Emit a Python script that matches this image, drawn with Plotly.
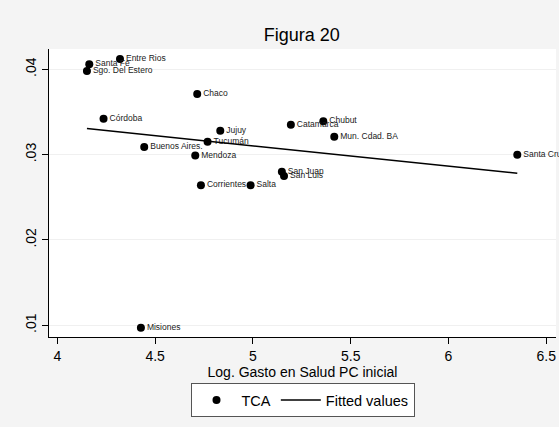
import numpy as np
import plotly.graph_objects as go

provinces = ["Entre Rios", "Santa Fe", "Sgo. Del Estero", "Chaco", "Córdoba", "Jujuy",
             "Tucumán", "Buenos Aires.", "Mendoza", "Catamarca", "Chubut", "Mun. Cdad. BA",
             "San Juan", "San Luis", "Corrientes", "Salta", "Santa Cruz", "Misiones"]
log_gasto = [4.32, 4.163, 4.151, 4.715, 4.236, 4.833,
             4.768, 4.444, 4.705, 5.194, 5.36, 5.416,
             5.148, 5.159, 4.734, 4.988, 6.352, 4.427]
tca = [0.0412, 0.0406, 0.0398, 0.0371, 0.0342, 0.0328,
       0.0315, 0.0309, 0.0299, 0.0335, 0.0339, 0.0321,
       0.0280, 0.0275, 0.0264, 0.0264, 0.0300, 0.0097]

x_ticks = [4, 4.5, 5, 5.5, 6, 6.5]
x_tick_labels = ["4", "4.5", "5", "5.5", "6", "6.5"]
y_ticks = [0.01, 0.02, 0.03, 0.04]
y_tick_labels = [".01", ".02", ".03", ".04"]

x = np.array(log_gasto)
y = np.array(tca)
slope, intercept = np.polyfit(x, y, 1)
xf = np.array([x.min(), x.max()])
yf = intercept + slope * xf

font = "Arial, Liberation Sans, sans-serif"
fig = go.Figure()
fig.add_trace(go.Scatter(
    x=log_gasto, y=tca, mode="markers+text", text=provinces,
    textposition="middle right", textfont=dict(size=8.5, color="#1a1a1a", family=font),
    marker=dict(color="black", size=8), name="TCA", cliponaxis=False))
fig.add_trace(go.Scatter(
    x=xf, y=yf, mode="lines", line=dict(color="black", width=1.5),
    name="Fitted values"))

fig.update_layout(
    width=559, height=427,
    paper_bgcolor="#f4f4f4", plot_bgcolor="white",
    margin=dict(l=49, r=3, t=49, b=90, autoexpand=False),
    font=dict(family=font, color="black", size=14),
    title=dict(text="Figura 20", x=0.54, xanchor="center", y=1 - 35 / 427, yanchor="middle",
               font=dict(size=18, family=font, color="black")),
    showlegend=True,
    legend=dict(orientation="h", x=0.5, xanchor="center", y=-0.16, yanchor="top",
                bgcolor="white", bordercolor="#555555", borderwidth=1,
                font=dict(size=14.5, family=font), itemwidth=40),
)
fig.update_xaxes(range=[3.957, 6.55], tickvals=x_ticks, ticktext=x_tick_labels,
                 showgrid=False, zeroline=False, showline=True, linecolor="black",
                 linewidth=1, ticks="outside", ticklen=6, tickcolor="black", automargin=False,
                 title=dict(text="Log. Gasto en Salud PC inicial", standoff=0,
                            font=dict(size=14)), tickfont=dict(size=14))
fig.update_yaxes(range=[0.00863, 0.04238], tickvals=y_ticks, ticktext=y_tick_labels,
                 showgrid=True, gridcolor="#f0f0f0", zeroline=False, showline=True,
                 linecolor="black", linewidth=1, ticks="outside", ticklen=6, automargin=False,
                 tickcolor="black", tickangle=-90, tickfont=dict(size=14))

fig.write_html("out.html", config={"displayModeBar": False},
               post_script="document.body.style.margin='0';")
